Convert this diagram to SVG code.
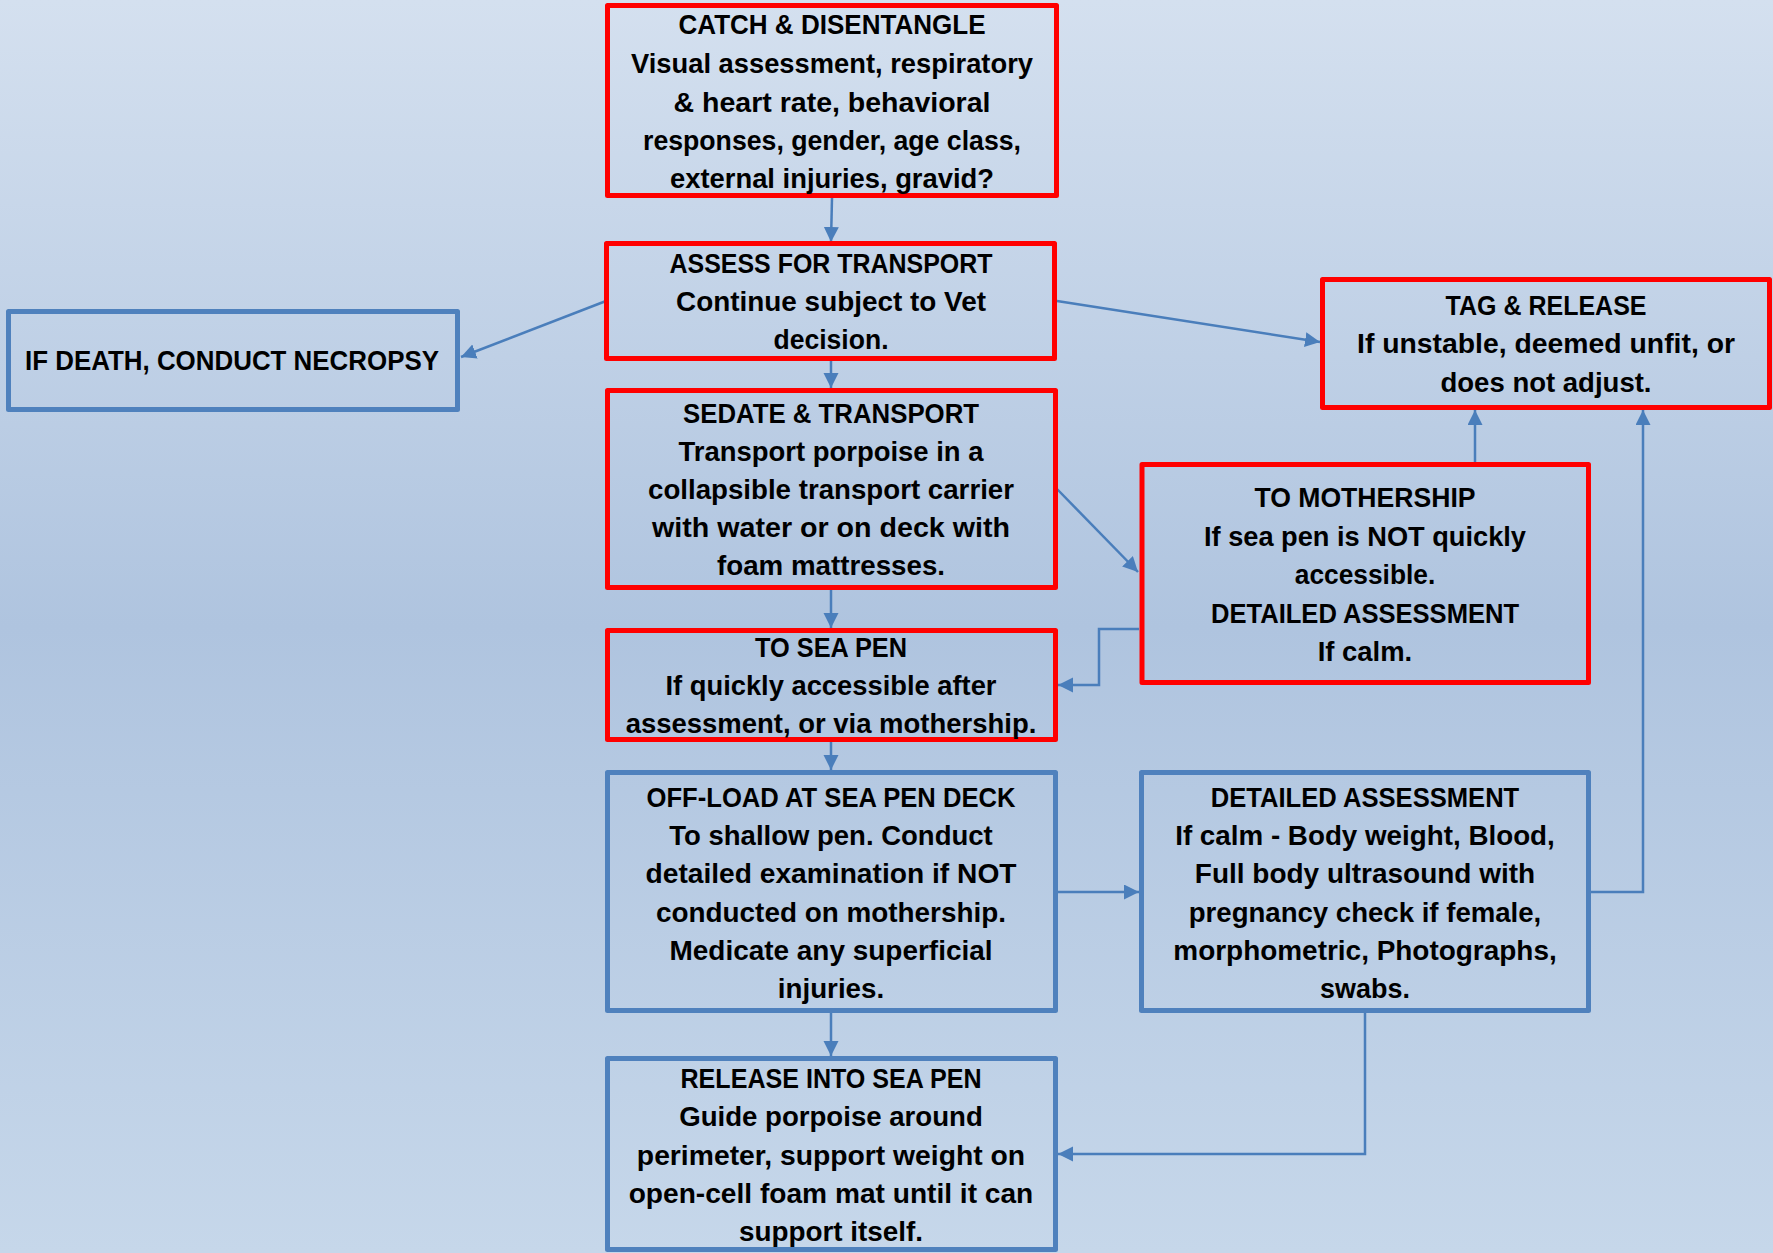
<svg xmlns="http://www.w3.org/2000/svg" width="1773" height="1253" viewBox="0 0 1773 1253">
<defs>
<linearGradient id="bg" x1="0" y1="0" x2="0" y2="1">
<stop offset="0" stop-color="#d4e0ef"/>
<stop offset="0.5" stop-color="#afc4df"/>
<stop offset="1" stop-color="#c6d7ea"/>
</linearGradient>
<marker id="arr" markerUnits="userSpaceOnUse" markerWidth="16" markerHeight="16" refX="15" refY="7.5" orient="auto">
<path d="M0,0 L15,7.5 L0,15 z" fill="#4a7ebb"/>
</marker>
<style>
.red{fill:none;stroke:#ff0000;stroke-width:5;stroke-linejoin:round}
.blue{fill:none;stroke:#4f81bd;stroke-width:5;stroke-linejoin:round}
.t{font-family:"Liberation Sans",Arial,sans-serif;font-weight:bold;font-size:27px;fill:#000;text-anchor:middle}
.c{fill:none;stroke:#4a7ebb;stroke-width:2.5;marker-end:url(#arr)}
</style>
</defs>
<rect x="0" y="0" width="1773" height="1253" fill="url(#bg)"/>

<g id="connectors">
<path class="c" d="M832,198 L831,242"/>
<path class="c" d="M606,301 L461,357"/>
<path class="c" d="M1057,301 L1320,342"/>
<path class="c" d="M831,361 L831,388"/>
<path class="c" d="M1057,489 L1138,572"/>
<path class="c" d="M831,590 L831,628"/>
<path class="c" d="M1139,629 H1099 V685 H1058"/>
<path class="c" d="M1475,462 V410"/>
<path class="c" d="M831,742 V770"/>
<path class="c" d="M1058,892 H1139"/>
<path class="c" d="M1591,892 H1643 V410"/>
<path class="c" d="M831,1013 V1056"/>
<path class="c" d="M1365,1013 V1154 H1058"/>
</g>

<g id="catch">
<rect class="red" x="607.5" y="5.5" width="449" height="190"/>
<text class="t" x="832" y="34.3" textLength="307" lengthAdjust="spacingAndGlyphs">CATCH &amp; DISENTANGLE</text>
<text class="t" x="832" y="72.7" textLength="402" lengthAdjust="spacingAndGlyphs">Visual assessment, respiratory</text>
<text class="t" x="832" y="111.5" textLength="317" lengthAdjust="spacingAndGlyphs">&amp; heart rate, behavioral</text>
<text class="t" x="832" y="150" textLength="378" lengthAdjust="spacingAndGlyphs">responses, gender, age class,</text>
<text class="t" x="832" y="188.3" textLength="324" lengthAdjust="spacingAndGlyphs">external injuries, gravid?</text>
</g>

<g id="assess">
<rect class="red" x="606.5" y="243.5" width="448" height="115"/>
<text class="t" x="831" y="273.3" textLength="323" lengthAdjust="spacingAndGlyphs">ASSESS FOR TRANSPORT</text>
<text class="t" x="831" y="311" textLength="310" lengthAdjust="spacingAndGlyphs">Continue subject to Vet</text>
<text class="t" x="831" y="349.3" textLength="115" lengthAdjust="spacingAndGlyphs">decision.</text>
</g>

<g id="necropsy">
<rect class="blue" x="8.5" y="311.5" width="449" height="98"/>
<text class="t" x="232" y="370" textLength="414" lengthAdjust="spacingAndGlyphs">IF DEATH, CONDUCT NECROPSY</text>
</g>

<g id="tag-release">
<rect class="red" x="1322.5" y="279.5" width="447" height="128"/>
<text class="t" x="1546" y="315" textLength="201" lengthAdjust="spacingAndGlyphs">TAG &amp; RELEASE</text>
<text class="t" x="1546" y="353.3" textLength="378" lengthAdjust="spacingAndGlyphs">If unstable, deemed unfit, or</text>
<text class="t" x="1546" y="391.7" textLength="211" lengthAdjust="spacingAndGlyphs">does not adjust.</text>
</g>

<g id="sedate">
<rect class="red" x="607.5" y="390.5" width="448" height="197"/>
<text class="t" x="831" y="422.7" textLength="296" lengthAdjust="spacingAndGlyphs">SEDATE &amp; TRANSPORT</text>
<text class="t" x="831" y="460.8" textLength="305" lengthAdjust="spacingAndGlyphs">Transport porpoise in a</text>
<text class="t" x="831" y="499" textLength="366" lengthAdjust="spacingAndGlyphs">collapsible transport carrier</text>
<text class="t" x="831" y="537" textLength="358" lengthAdjust="spacingAndGlyphs">with water or on deck with</text>
<text class="t" x="831" y="575" textLength="228" lengthAdjust="spacingAndGlyphs">foam mattresses.</text>
</g>

<g id="mothership">
<rect class="red" x="1142" y="464.5" width="446.5" height="218"/>
<text class="t" x="1365" y="507.3" textLength="221" lengthAdjust="spacingAndGlyphs">TO MOTHERSHIP</text>
<text class="t" x="1365" y="545.8" textLength="322" lengthAdjust="spacingAndGlyphs">If sea pen is NOT quickly</text>
<text class="t" x="1365" y="584.3" textLength="140.5" lengthAdjust="spacingAndGlyphs">accessible.</text>
<text class="t" x="1365" y="622.8" textLength="308" lengthAdjust="spacingAndGlyphs">DETAILED ASSESSMENT</text>
<text class="t" x="1365" y="661.3" textLength="94.5" lengthAdjust="spacingAndGlyphs">If calm.</text>
</g>

<g id="sea-pen">
<rect class="red" x="607.5" y="630.5" width="448" height="109"/>
<text class="t" x="831" y="656.7" textLength="152" lengthAdjust="spacingAndGlyphs">TO SEA PEN</text>
<text class="t" x="831" y="695" textLength="331" lengthAdjust="spacingAndGlyphs">If quickly accessible after</text>
<text class="t" x="831" y="732.7" textLength="410.6" lengthAdjust="spacingAndGlyphs">assessment, or via mothership.</text>
</g>

<g id="off-load">
<rect class="blue" x="607.5" y="772.5" width="448" height="238"/>
<text class="t" x="831" y="806.7" textLength="369" lengthAdjust="spacingAndGlyphs">OFF-LOAD AT SEA PEN DECK</text>
<text class="t" x="831" y="845" textLength="323.4" lengthAdjust="spacingAndGlyphs">To shallow pen. Conduct</text>
<text class="t" x="831" y="883" textLength="371" lengthAdjust="spacingAndGlyphs">detailed examination if NOT</text>
<text class="t" x="831" y="921.5" textLength="350" lengthAdjust="spacingAndGlyphs">conducted on mothership.</text>
<text class="t" x="831" y="960" textLength="323" lengthAdjust="spacingAndGlyphs">Medicate any superficial</text>
<text class="t" x="831" y="998.3" textLength="106.4" lengthAdjust="spacingAndGlyphs">injuries.</text>
</g>

<g id="detailed">
<rect class="blue" x="1141.5" y="772.5" width="447" height="238"/>
<text class="t" x="1365" y="806.7" textLength="308.5" lengthAdjust="spacingAndGlyphs">DETAILED ASSESSMENT</text>
<text class="t" x="1365" y="845" textLength="379.6" lengthAdjust="spacingAndGlyphs">If calm - Body weight, Blood,</text>
<text class="t" x="1365" y="883" textLength="340.3" lengthAdjust="spacingAndGlyphs">Full body ultrasound with</text>
<text class="t" x="1365" y="921.5" textLength="352.5" lengthAdjust="spacingAndGlyphs">pregnancy check if female,</text>
<text class="t" x="1365" y="960" textLength="383.4" lengthAdjust="spacingAndGlyphs">morphometric, Photographs,</text>
<text class="t" x="1365" y="998.3" textLength="89.8" lengthAdjust="spacingAndGlyphs">swabs.</text>
</g>

<g id="release">
<rect class="blue" x="607.5" y="1058.5" width="448" height="191"/>
<text class="t" x="831" y="1088.3" textLength="301" lengthAdjust="spacingAndGlyphs">RELEASE INTO SEA PEN</text>
<text class="t" x="831" y="1126" textLength="303.6" lengthAdjust="spacingAndGlyphs">Guide porpoise around</text>
<text class="t" x="831" y="1165" textLength="388.3" lengthAdjust="spacingAndGlyphs">perimeter, support weight on</text>
<text class="t" x="831" y="1203.3" textLength="404.6" lengthAdjust="spacingAndGlyphs">open-cell foam mat until it can</text>
<text class="t" x="831" y="1240.7" textLength="184.2" lengthAdjust="spacingAndGlyphs">support itself.</text>
</g>
</svg>
